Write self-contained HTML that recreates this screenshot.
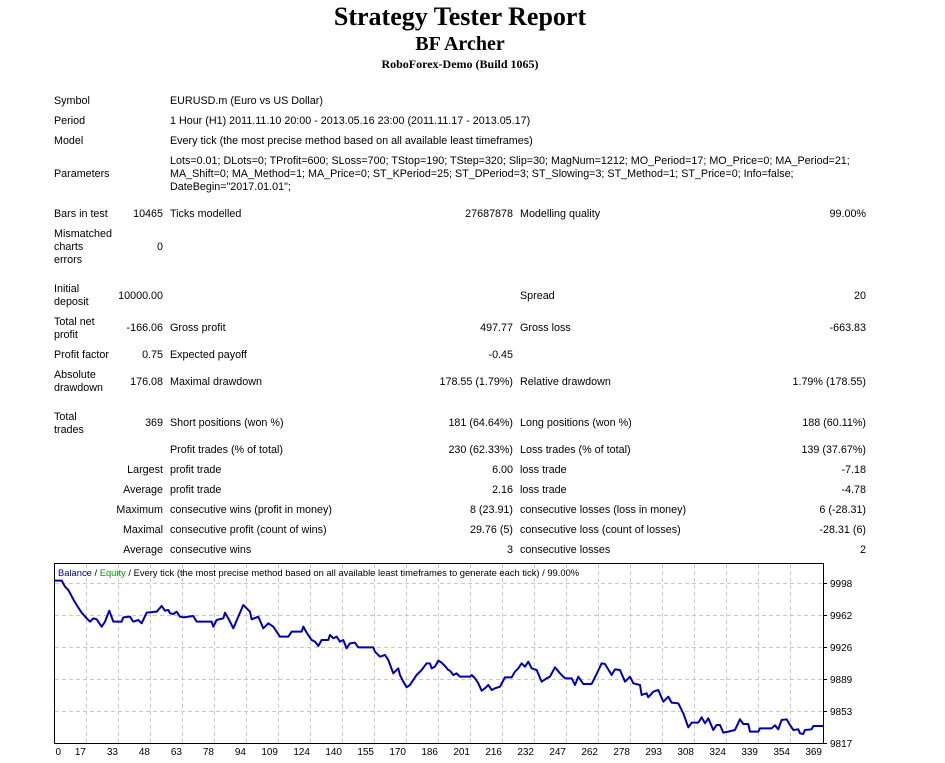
<!DOCTYPE html>
<html><head><meta charset="utf-8"><style>
body{margin:0;width:945px;height:763px;background:#fff;position:relative;font-family:"Liberation Sans",sans-serif;font-size:10.75px;color:#000;overflow:hidden}
.t{position:absolute;line-height:13px;white-space:nowrap}
.r{text-align:right}
.h{position:absolute;left:0;width:920px;text-align:center;font-family:"Liberation Serif",serif;font-weight:bold;white-space:nowrap}
</style></head><body>
<div class="h" style="top:1px;font-size:26px;line-height:32px">Strategy Tester Report</div>
<div class="h" style="top:32px;font-size:20px;line-height:24px">BF Archer</div>
<div class="h" style="top:56px;font-size:12px;line-height:16px">RoboForex-Demo (Build 1065)</div>

<div class="t" style="left:54px;top:95px">Symbol</div><div class="t" style="left:170px;top:95px">EURUSD.m (Euro vs US Dollar)</div>
<div class="t" style="left:54px;top:115px">Period</div><div class="t" style="left:170px;top:115px">1 Hour (H1) 2011.11.10 20:00 - 2013.05.16 23:00 (2011.11.17 - 2013.05.17)</div>
<div class="t" style="left:54px;top:135px">Model</div><div class="t" style="left:170px;top:135px">Every tick (the most precise method based on all available least timeframes)</div>
<div class="t" style="left:54px;top:168px">Parameters</div>
<div class="t" style="left:170px;top:155px">Lots=0.01; DLots=0; TProfit=600; SLoss=700; TStop=190; TStep=320; Slip=30; MagNum=1212; MO_Period=17; MO_Price=0; MA_Period=21;<br>MA_Shift=0; MA_Method=1; MA_Price=0; ST_KPeriod=25; ST_DPeriod=3; ST_Slowing=3; ST_Method=1; ST_Price=0; Info=false;<br>DateBegin="2017.01.01";</div>

<div class="t" style="left:54px;top:208px">Bars in test</div><div class="t r" style="left:100px;width:63px;top:208px">10465</div>
<div class="t" style="left:170px;top:208px">Ticks modelled</div><div class="t r" style="left:400px;width:113px;top:208px">27687878</div>
<div class="t" style="left:520px;top:208px">Modelling quality</div><div class="t r" style="left:760px;width:106px;top:208px">99.00%</div>

<div class="t" style="left:54px;top:228px">Mismatched<br>charts<br>errors</div><div class="t r" style="left:100px;width:63px;top:241px">0</div>

<div class="t" style="left:54px;top:283px">Initial<br>deposit</div><div class="t r" style="left:100px;width:63px;top:290px">10000.00</div>
<div class="t" style="left:520px;top:290px">Spread</div><div class="t r" style="left:760px;width:106px;top:290px">20</div>

<div class="t" style="left:54px;top:316px">Total net<br>profit</div><div class="t r" style="left:100px;width:63px;top:322px">-166.06</div>
<div class="t" style="left:170px;top:322px">Gross profit</div><div class="t r" style="left:400px;width:113px;top:322px">497.77</div>
<div class="t" style="left:520px;top:322px">Gross loss</div><div class="t r" style="left:760px;width:106px;top:322px">-663.83</div>

<div class="t" style="left:54px;top:349px">Profit factor</div><div class="t r" style="left:100px;width:63px;top:349px">0.75</div>
<div class="t" style="left:170px;top:349px">Expected payoff</div><div class="t r" style="left:400px;width:113px;top:349px">-0.45</div>

<div class="t" style="left:54px;top:369px">Absolute<br>drawdown</div><div class="t r" style="left:100px;width:63px;top:376px">176.08</div>
<div class="t" style="left:170px;top:376px">Maximal drawdown</div><div class="t r" style="left:400px;width:113px;top:376px">178.55 (1.79%)</div>
<div class="t" style="left:520px;top:376px">Relative drawdown</div><div class="t r" style="left:760px;width:106px;top:376px">1.79% (178.55)</div>

<div class="t" style="left:54px;top:411px">Total<br>trades</div><div class="t r" style="left:100px;width:63px;top:417px">369</div>
<div class="t" style="left:170px;top:417px">Short positions (won %)</div><div class="t r" style="left:400px;width:113px;top:417px">181 (64.64%)</div>
<div class="t" style="left:520px;top:417px">Long positions (won %)</div><div class="t r" style="left:760px;width:106px;top:417px">188 (60.11%)</div>

<div class="t" style="left:170px;top:444px">Profit trades (% of total)</div><div class="t r" style="left:400px;width:113px;top:444px">230 (62.33%)</div>
<div class="t" style="left:520px;top:444px">Loss trades (% of total)</div><div class="t r" style="left:760px;width:106px;top:444px">139 (37.67%)</div>

<div class="t r" style="left:60px;width:103px;top:464px">Largest</div><div class="t" style="left:170px;top:464px">profit trade</div><div class="t r" style="left:400px;width:113px;top:464px">6.00</div>
<div class="t" style="left:520px;top:464px">loss trade</div><div class="t r" style="left:760px;width:106px;top:464px">-7.18</div>

<div class="t r" style="left:60px;width:103px;top:484px">Average</div><div class="t" style="left:170px;top:484px">profit trade</div><div class="t r" style="left:400px;width:113px;top:484px">2.16</div>
<div class="t" style="left:520px;top:484px">loss trade</div><div class="t r" style="left:760px;width:106px;top:484px">-4.78</div>

<div class="t r" style="left:60px;width:103px;top:504px">Maximum</div><div class="t" style="left:170px;top:504px">consecutive wins (profit in money)</div><div class="t r" style="left:400px;width:113px;top:504px">8 (23.91)</div>
<div class="t" style="left:520px;top:504px">consecutive losses (loss in money)</div><div class="t r" style="left:760px;width:106px;top:504px">6 (-28.31)</div>

<div class="t r" style="left:60px;width:103px;top:524px">Maximal</div><div class="t" style="left:170px;top:524px">consecutive profit (count of wins)</div><div class="t r" style="left:400px;width:113px;top:524px">29.76 (5)</div>
<div class="t" style="left:520px;top:524px">consecutive loss (count of losses)</div><div class="t r" style="left:760px;width:106px;top:524px">-28.31 (6)</div>

<div class="t r" style="left:60px;width:103px;top:544px">Average</div><div class="t" style="left:170px;top:544px">consecutive wins</div><div class="t r" style="left:400px;width:113px;top:544px">3</div>
<div class="t" style="left:520px;top:544px">consecutive losses</div><div class="t r" style="left:760px;width:106px;top:544px">2</div>

<svg style="position:absolute;left:0;top:0" width="945" height="763" font-family="Liberation Sans, sans-serif" font-size="10">
<rect x="54.5" y="563.5" width="769" height="180" fill="#fff" stroke="#000"/>
<g stroke="#c8c8c8" stroke-dasharray="4,3" stroke-width="1">
<line x1="55" x2="823" y1="583.5" y2="583.5"/><line x1="55" x2="823" y1="615.5" y2="615.5"/><line x1="55" x2="823" y1="647.5" y2="647.5"/><line x1="55" x2="823" y1="679.5" y2="679.5"/><line x1="55" x2="823" y1="711.5" y2="711.5"/>
<path d="M86.5 564V743M118.5 564V743M150.5 564V743M182.5 564V743M214.5 564V743M246.5 564V743M278.5 564V743M310.5 564V743M342.5 564V743M374.5 564V743M406.5 564V743M438.5 564V743M470.5 564V743M502.5 564V743M534.5 564V743M566.5 564V743M598.5 564V743M630.5 564V743M662.5 564V743M694.5 564V743M726.5 564V743M758.5 564V743M790.5 564V743"/>
</g>
<g stroke="#000"><path d="M823 583.5h4M823 615.5h4M823 647.5h4M823 679.5h4M823 711.5h4M823 743.5h4"/></g>
<g font-size="10" fill="#000">
<text x="830" y="587">9998</text><text x="830" y="619">9962</text><text x="830" y="651">9926</text><text x="830" y="683">9889</text><text x="830" y="715">9853</text><text x="830" y="747">9817</text>
</g>
<g font-size="10" text-anchor="end">
<text x="61" y="755">0</text><text x="86" y="755">17</text><text x="118" y="755">33</text><text x="150" y="755">48</text><text x="182" y="755">63</text><text x="214" y="755">78</text><text x="246" y="755">94</text><text x="278" y="755">109</text><text x="310" y="755">124</text><text x="342" y="755">140</text><text x="374" y="755">155</text><text x="406" y="755">170</text><text x="438" y="755">186</text><text x="470" y="755">201</text><text x="502" y="755">216</text><text x="534" y="755">232</text><text x="566" y="755">247</text><text x="598" y="755">262</text><text x="630" y="755">278</text><text x="662" y="755">293</text><text x="694" y="755">308</text><text x="726" y="755">324</text><text x="758" y="755">339</text><text x="790" y="755">354</text><text x="822" y="755">369</text>
</g>
<text x="58" y="576" font-size="9.4"><tspan fill="#00008b">Balance</tspan> / <tspan fill="#00a000">Equity</tspan> / Every tick (the most precise method based on all available least timeframes to generate each tick) / 99.00%</text>
<g fill="none" stroke="#0000a8" stroke-width="2" stroke-linejoin="round">
<polyline vector-effect="non-scaling-stroke" transform="translate(50,560) scale(0.3333)" points="15,62 35,62 45,80 55,90 70,118 80,135 95,158 110,175 120,185 130,175 140,178 155,200 165,185 178,152 190,185 215,185 220,172 240,170 250,185 265,180 275,190 290,158 320,155 335,138 345,152 355,150 360,160 370,162 380,155 390,170 400,172 430,168 440,185 485,185 490,200 500,180 520,175 525,158 535,175 550,205 565,170 580,135 590,145 600,155 605,178 625,170 640,205 655,190 670,200 690,230 715,230 725,215 755,215 760,200 770,218 785,240 795,245 805,258 815,240 835,240 840,225 850,235 860,230 870,245 880,240 890,265 900,250 915,248 925,262 970,262 975,275 990,290 1005,285 1015,300 1030,340 1045,325 1050,345 1060,365 1070,382 1080,375 1100,345 1115,330 1130,310 1140,310 1145,325 1155,320 1165,302 1175,308 1185,318 1195,330 1200,332"/>
<polyline vector-effect="non-scaling-stroke" transform="translate(450,560) scale(0.3333)" points="0,332 10,345 20,340 30,350 60,350 65,345 75,355 85,370 95,392 105,385 115,375 125,390 135,385 150,380 165,352 185,352 195,335 205,325 215,310 225,320 235,305 245,325 260,330 275,365 290,355 300,350 315,322 330,340 345,355 365,355 375,375 385,350 400,372 425,372 440,342 455,310 465,312 485,345 495,328 510,330 525,365 540,350 550,370 570,375 575,405 590,400 595,412 610,395 625,390 640,425 655,410 665,428 685,430 700,460 715,502 725,488 745,488 755,472 765,490 775,475 790,510 800,495 810,495 820,518 835,515 855,510 870,478 880,492 895,492 900,515 925,515 930,505 965,505 975,496 985,508 995,480 1010,478 1020,495 1030,510 1045,508 1050,520 1060,522 1065,510 1085,508 1090,498 1120,498"/>
</g>
</svg>
</body></html>
